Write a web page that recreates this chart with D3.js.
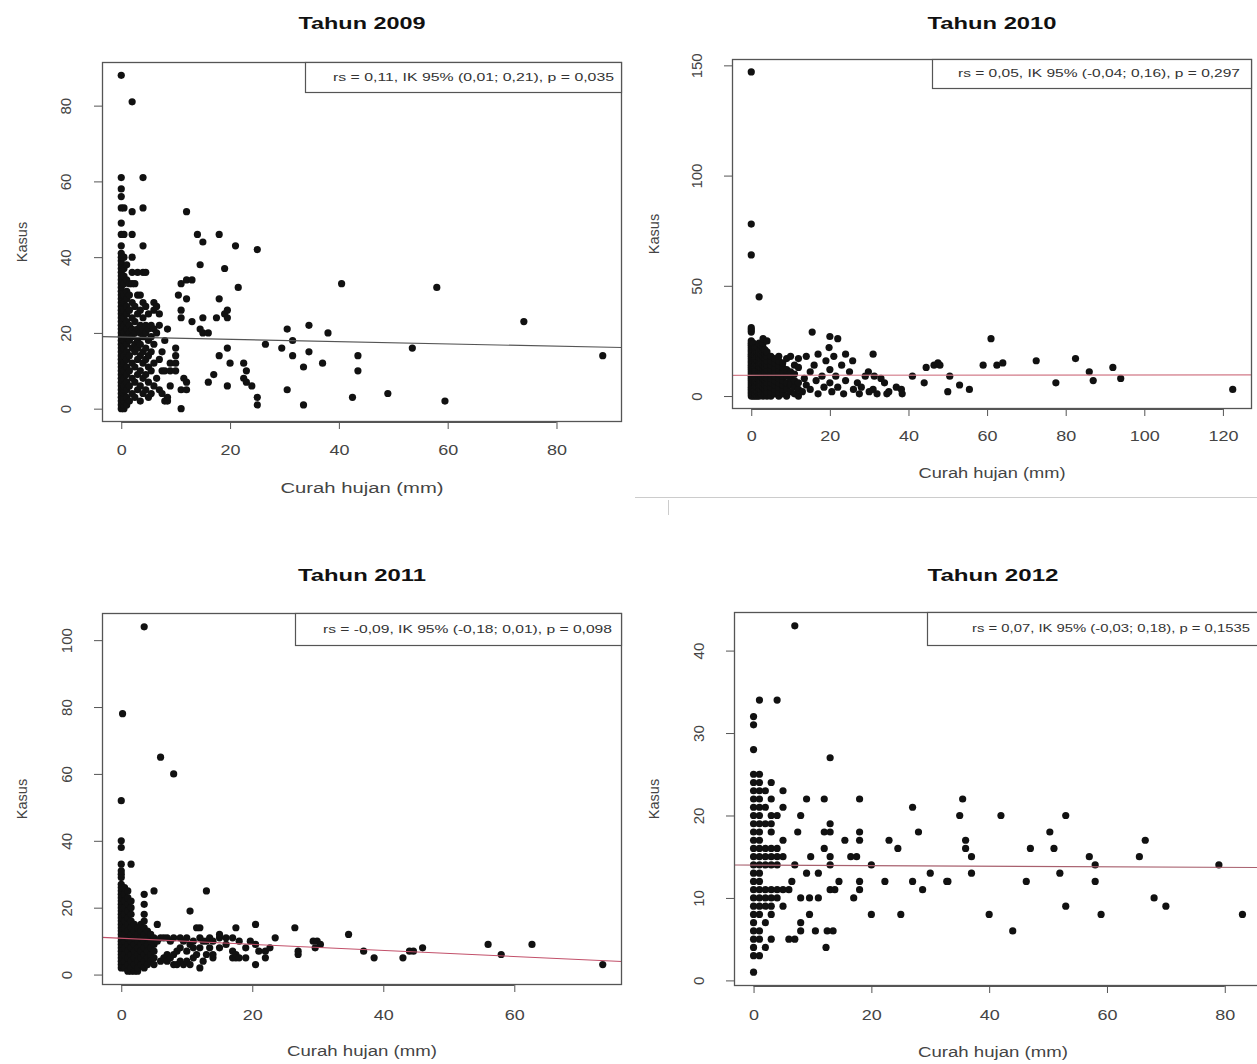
<!DOCTYPE html>
<html><head><meta charset="utf-8">
<script src="https://cdn.jsdelivr.net/npm/d3@7"></script>
<style>
body{margin:0;background:#fff}
svg{display:block}
text{font-family:"Liberation Sans",Arial,sans-serif}
</style>
</head><body>
<svg id="c" width="1257" height="1064"></svg>
<script>
// ---------- DATA (x = curah hujan mm, y-list = kasus) ----------
const years = ["2009", "2010", "2011", "2012"];
const statsText = [
  "rs = 0,11, IK 95% (0,01; 0,21), p = 0,035",
  "rs = 0,05, IK 95% (-0,04; 0,16), p = 0,297",
  "rs = -0,09, IK 95% (-0,18; 0,01), p = 0,098",
  "rs = 0,07, IK 95% (-0,03; 0,18), p = 0,1535"
];
const trendIntercept = [18.9, 9.4, 10.84, 13.99];
const trendSlope = [-0.030, 0.0015, -0.0907, -0.0035];
const xTicks = [[0,20,40,60,80],[0,20,40,60,80,100,120],[0,20,40,60],[0,20,40,60,80]];
const yTicks = [[0,20,40,60,80],[0,50,100,150],[0,20,40,60,80,100],[0,10,20,30,40]];

const data2009 = [
 [0,[0,1,2,3,4,5,6,7,8,9,10,11,12,13,14,15,16,17,18,19,20,21,22,23,24,25,26,27,28,29,30,31,32,33,34,35,36,37,38,39,40,41,43,46,49,53,56,58,61,88]],
 [0.5,[0,1,2,3,4,5,6,8,10,12,14,16,18,20,22,24,26,28,30,33,35,37,40,46,53]],
 [1,[1,3,5,7,9,11,13,15,17,19,21,23,25,27,29,31,34,38]],
 [1.5,[2,6,10,14,18,20,22,26,30,33]],
 [2,[4,8,12,16,19,21,24,28,33,36,40,46,52,81]],
 [2.5,[3,7,11,15,17,20,23,27,33]],
 [3,[5,9,13,16,18,21,25,30,36]],
 [3.5,[2,6,10,14,17,20,22,26,30]],
 [4,[4,8,12,15,19,21,24,28,36,43,53,61]],
 [4.5,[5,9,13,16,20,22,27,36]],
 [5,[3,7,11,14,18,21,25]],
 [5.5,[4,10,15,19,22]],
 [6,[6,12,17,21,26,28]],
 [6.5,[8,20,27]],
 [7,[5,13,22,25]],
 [7.5,[4,10,15]],
 [8,[2,10,18]],
 [8.5,[2,3,21]],
 [9,[6,10,12]],
 [10,[10,12,14,16]],
 [10.5,[30]],
 [11,[0,5,24,26,33]],
 [11.5,[8]],
 [12,[5,7,29,34,52]],
 [13,[23,34]],
 [14,[46]],
 [14.5,[21,38]],
 [15,[20,24,44]],
 [16,[7,20]],
 [17,[9]],
 [17.5,[24]],
 [18,[14,29,46]],
 [19,[25,37]],
 [19.5,[6,16,24,26]],
 [20,[12]],
 [21,[43]],
 [21.5,[32]],
 [22.5,[8,12]],
 [23,[7,10]],
 [24,[6]],
 [25,[1,3,42]],
 [26.5,[17]],
 [29.5,[16]],
 [30.5,[5,21]],
 [31.5,[14,18]],
 [33.5,[1,11]],
 [34.5,[15,22]],
 [37,[12]],
 [38,[20]],
 [40.5,[33]],
 [42.5,[3]],
 [43.5,[10,14]],
 [49,[4]],
 [53.5,[16]],
 [58,[32]],
 [59.5,[2]],
 [74,[23]],
 [88.5,[14]]
];

const data2010 = [
 [0,[0,1,2,3,4,5,6,7,8,9,10,11,12,13,14,15,16,17,18,19,20,21,22,23,24,25,29,30,31,64,78,147]],
 [0.5,[0,1,2,3,4,5,6,7,8,9,10,11,12,13,14,15,16,17,18,19,20,21,22,23,24]],
 [1,[0,1,2,3,4,5,6,7,8,9,10,11,12,13,14,15,16,17,18,19,20,21,22]],
 [1.5,[0,2,4,6,8,10,12,14,16,18,20,22]],
 [2,[0,1,2,3,4,5,6,7,8,9,10,11,12,13,14,15,16,17,18,19,20,24,45]],
 [2.5,[1,3,5,7,9,11,13,15,17,19,21,23]],
 [3,[0,2,4,6,8,10,12,14,16,18,20,22,24,26]],
 [3.5,[1,3,5,7,9,11,13,15,17,19,21]],
 [4,[0,2,4,6,8,10,12,14,16,18,20,25]],
 [5,[0,2,4,6,8,10,12,14,16,18]],
 [6,[1,3,5,7,9,11,13,15,17]],
 [7,[0,2,4,6,8,10,12,14,16,18]],
 [8,[1,3,5,7,9,11,13,15]],
 [9,[0,3,6,9,12,17]],
 [10,[2,5,8,11,18]],
 [11,[1,4,7,10,14]],
 [12,[0,3,6,13,17]],
 [13,[2]], [13.5,[8]], [14,[5,18]], [15,[3,11]], [15.5,[29]], [16,[14]], [16.5,[7]],
 [17,[1,19]], [18,[9]], [18.5,[4]], [19,[16]], [19.8,[22]], [20,[6,12,27]], [20.5,[2]],
 [21,[18]], [21.5,[9]], [22,[4,26]], [23,[14]], [23.5,[1]], [24,[7,19]], [25,[11]],
 [25.8,[16]], [26,[3]], [27,[6]], [27.5,[1]], [28,[4]], [29,[9]], [29.8,[11]], [30,[2]],
 [31,[3,19]], [31.3,[9]], [32,[1]], [33,[8]], [33.9,[6]], [34.5,[1]], [35,[2]],
 [36.9,[4]], [38.2,[3]], [38.4,[1]], [41,[9]], [44,[6]], [44.5,[13]], [46.5,[14]],
 [47.5,[15]], [48,[14]], [50,[2]], [50.5,[9]], [53,[5]], [55.5,[3]], [59,[14]],
 [61,[26]], [62.5,[14]], [64,[15]], [72.5,[16]], [77.5,[6]], [82.5,[17]], [86,[11]],
 [87,[7]], [92,[13]], [94,[8]], [122.5,[3]]
];

const data2011 = [
 [0,[2,3,4,5,6,7,8,9,10,11,12,13,14,15,16,17,18,19,20,21,22,23,24,25,26,27,29,30,31,33,38,40,52]],
 [0.2,[78]],
 [0.5,[2,4,6,8,10,12,14,16,18,20,22,24,26]],
 [1,[1,3,5,7,9,11,13,15,17,19,21,23,25]],
 [1.5,[1,2,4,6,8,10,12,14,16,18,20,22,33]],
 [2,[1,3,5,7,9,11,13,15]],
 [2.5,[1,2,4,6,8,10,12,14]],
 [3,[3,5,7,9,11,13,15]],
 [3.5,[2,4,6,8,10,12,14,16,18,21,24,104]],
 [4,[3,5,7,9,11,13]],
 [4.5,[4,6,8,10,12]],
 [5,[3,5,7,9,11,25]],
 [5.5,[10,15]], [6,[4,11,65]], [6.5,[5,11]], [7,[4,6,11]], [7.5,[5,10]],
 [8,[3,6,11,60]], [8.5,[3,7]], [9,[4,8,11]], [9.5,[3,10]], [10,[4,7,11]],
 [10.5,[3,9,19]], [11,[5,8,10]], [11.5,[6,14]], [12,[2,8,11,14]], [12.5,[4,10]],
 [13,[6,10,25]], [13.5,[8,11]], [14,[5,6,10]], [15,[8,11,12]], [16,[9,11]],
 [17,[5,7,11]], [17.5,[5,6,14]], [18,[5,10]], [19,[5,8]], [19.7,[10]],
 [20.5,[3,9,15]], [21,[7]], [22,[5,7]], [22.7,[8]], [23.5,[11]], [26.5,[14]],
 [27,[6,7]], [29.3,[10]], [29.6,[8]], [29.9,[10]], [30.4,[9]], [34.7,[12]],
 [37,[7]], [38.6,[5]], [43,[5]], [44,[7]], [44.6,[7]], [46,[8]], [56,[9]],
 [58,[6]], [62.7,[9]], [73.5,[3]]
];

const data2012 = [
 [0,[1,3,4,5,6,7,8,9,10,11,12,13,14,15,16,17,18,19,20,21,22,23,24,25,28,31,32]],
 [1,[3,5,6,8,9,10,11,12,13,14,15,16,17,18,19,20,21,22,23,24,25,34]],
 [2,[4,7,9,10,11,14,15,16,19,21,23]],
 [3,[5,8,9,10,11,14,15,16,18,19,20,22,24]],
 [4,[10,11,14,15,16,20,34]],
 [5,[9,11,15,17,21,23]],
 [6,[5,11]], [6.5,[12]], [7,[5,14,43]], [7.5,[18]], [8,[6,7,10,20]], [9,[13,22]],
 [9.5,[8,10]], [9.7,[15]], [10.5,[6]], [11,[10,13]], [12,[16,18,22]], [12.3,[4]],
 [12.5,[6]], [13,[11,14,15,18,19,27]], [13.5,[6]], [13.8,[11]], [14.5,[12]],
 [15.5,[17]], [16.5,[15]], [17,[10]], [17.5,[15]], [18,[11,12,17,18,22]],
 [20,[8,14]], [22.3,[12]], [23,[17]], [24.5,[16]], [25,[8]], [27,[12,21]],
 [28,[18]], [28.7,[11]], [30,[13]], [32.8,[12]], [33,[12]], [35,[20]], [35.5,[22]],
 [36,[16,17]], [37,[13,15]], [40,[8]], [42,[20]], [44,[6]], [46.3,[12]], [47,[16]],
 [50.3,[18]], [51,[16]], [52,[13]], [53,[9,20]], [57,[15]], [58,[12,14]], [59,[8]],
 [65.5,[15]], [66.5,[17]], [68,[10]], [70,[9]], [79,[14]], [83,[8]]
];

const allData = [data2009, data2010, data2011, data2012];

// ---------- LAYOUT ----------
const layout = [
 {l:102, r:622, t:62, b:422, titleY:25, xlabY:451, xTitleY:489, yLabX:67, yTitleX:23, legL:305, legB:92, legTextR:614, legTextW:281, xTitleW:163, trend:"#555"},
 {l:732, r:1252, t:59, b:409, titleY:25, xlabY:437, xTitleY:474, yLabX:698, yTitleX:655, legL:932, legB:88, legTextR:1240, legTextW:282, xTitleW:147, trend:"#d27a88"},
 {l:102, r:622, t:613, b:985, titleY:577, xlabY:1016, xTitleY:1052, yLabX:68, yTitleX:23, legL:295, legB:645, legTextR:612, legTextW:289, xTitleW:150, trend:"#c2506a"},
 {l:734, r:1262, t:612, b:986, titleY:577, xlabY:1016, xTitleY:1053, yLabX:700, yTitleX:655, legL:927, legB:645, legTextR:1250, legTextW:278, xTitleW:150, trend:"#a8606e"}
];
const titleW = [127, 129, 128, 131];

const svg = d3.select("#c");
svg.append("rect").attr("width",1257).attr("height",1064).attr("fill","#fff");

// faint separator artifacts
svg.append("line").attr("x1",635).attr("x2",1257).attr("y1",497.5).attr("y2",497.5).attr("stroke","#ccc");
svg.append("line").attr("x1",668.5).attr("x2",668.5).attr("y1",500).attr("y2",515).attr("stroke","#ccc");

function rPad(ext){ const d = ext[1]-ext[0]; return [ext[0]-0.04*d, ext[1]+0.04*d]; }

allData.forEach((groups, i) => {
  const L = layout[i];
  const pts = [];
  groups.forEach(([x, ys]) => ys.forEach(y => pts.push([x, y])));

  const x = d3.scaleLinear().domain(rPad(d3.extent(pts, d => d[0]))).range([L.l, L.r]);
  const y = d3.scaleLinear().domain(rPad(d3.extent(pts, d => d[1]))).range([L.b, L.t]);

  const g = svg.append("g");
  const clipId = "clip" + i;
  svg.append("clipPath").attr("id", clipId).append("rect")
    .attr("x", L.l).attr("y", L.t).attr("width", L.r - L.l).attr("height", L.b - L.t);

  // points
  g.append("g").selectAll("circle").data(pts).join("circle")
    .attr("cx", d => x(d[0])).attr("cy", d => y(d[1])).attr("r", 3.6)
    .attr("fill", "#111");

  // trend line
  const xd = x.domain();
  g.append("line").attr("clip-path", `url(#${clipId})`)
    .attr("x1", x(xd[0])).attr("x2", x(xd[1]))
    .attr("y1", y(trendIntercept[i] + trendSlope[i]*xd[0]))
    .attr("y2", y(trendIntercept[i] + trendSlope[i]*xd[1]))
    .attr("stroke", L.trend).attr("stroke-width", 1.1);

  // box
  g.append("rect").attr("x", L.l + 0.5).attr("y", L.t + 0.5)
    .attr("width", L.r - L.l - 1).attr("height", L.b - L.t - 1)
    .attr("fill", "none").attr("stroke", "#555").attr("stroke-width", 1.3);

  // x axis
  const xa = g.append("g").attr("transform", `translate(0,${L.b})`)
    .call(d3.axisBottom(x).tickValues(xTicks[i]).tickSize(7).tickSizeOuter(0).tickFormat(d3.format("d")));
  xa.select(".domain").attr("d", `M${x(xTicks[i][0])},0.5H${x(xTicks[i][xTicks[i].length-1])}`).attr("stroke","#555");
  xa.selectAll(".tick line").attr("stroke", "#555");
  xa.selectAll(".tick text").attr("y", null).attr("dy", null)
    .attr("transform", null)
    .attr("y", L.xlabY - L.b).attr("dominant-baseline", "middle")
    .attr("font-size", 15).attr("fill", "#444")
    .attr("font-family", '"Liberation Sans", Arial, sans-serif')
    .each(function(){ const t = this.textContent; d3.select(this).attr("textLength", t.length*10).attr("lengthAdjust","spacingAndGlyphs"); });

  // y axis
  const ya = g.append("g").attr("transform", `translate(${L.l},0)`)
    .call(d3.axisLeft(y).tickValues(yTicks[i]).tickSize(8).tickSizeOuter(0).tickFormat(d3.format("d")));
  ya.select(".domain").attr("d", `M0.5,${y(yTicks[i][0])}V${y(yTicks[i][yTicks[i].length-1])}`).attr("stroke","#555");
  ya.selectAll(".tick line").attr("stroke", "#555");
  ya.selectAll(".tick text").attr("x", null).attr("dy", null)
    .attr("font-size", 15).attr("fill", "#444")
    .attr("font-family", '"Liberation Sans", Arial, sans-serif')
    .attr("text-anchor", "middle").attr("dominant-baseline", "middle")
    .attr("transform", `translate(${L.yLabX - L.l},0) rotate(-90)`);

  // legend box
  g.append("rect").attr("x", L.legL + 0.5).attr("y", L.t + 0.5)
    .attr("width", L.r - L.legL - 1).attr("height", L.legB - L.t)
    .attr("fill", "#fff").attr("stroke", "#555").attr("stroke-width", 1.2);
  g.append("text").attr("x", L.legTextR).attr("y", (L.t + L.legB)/2 + 1)
    .attr("text-anchor", "end").attr("dominant-baseline", "middle")
    .attr("font-size", 10.5).attr("fill", "#333")
    .attr("textLength", L.legTextW).attr("lengthAdjust", "spacingAndGlyphs")
    .text(statsText[i]);

  // title
  svg.append("text").attr("x", (L.l + Math.min(L.r,1252))/2).attr("y", L.titleY)
    .attr("text-anchor", "middle").attr("dominant-baseline", "middle")
    .attr("font-size", 16).attr("font-weight", "bold").attr("fill", "#111")
    .attr("textLength", titleW[i]).attr("lengthAdjust", "spacingAndGlyphs")
    .text("Tahun " + years[i]);

  // axis titles
  svg.append("text").attr("x", (L.l + Math.min(L.r,1252))/2).attr("y", L.xTitleY)
    .attr("text-anchor", "middle").attr("dominant-baseline", "middle")
    .attr("font-size", 14).attr("fill", "#444")
    .attr("textLength", L.xTitleW).attr("lengthAdjust", "spacingAndGlyphs")
    .text("Curah hujan (mm)");
  svg.append("text")
    .attr("transform", `translate(${L.yTitleX},${(L.t + L.b)/2}) rotate(-90)`)
    .attr("text-anchor", "middle").attr("dominant-baseline", "middle")
    .attr("font-size", 14.5).attr("fill", "#444")
    .text("Kasus");
});
</script>
</body></html>
